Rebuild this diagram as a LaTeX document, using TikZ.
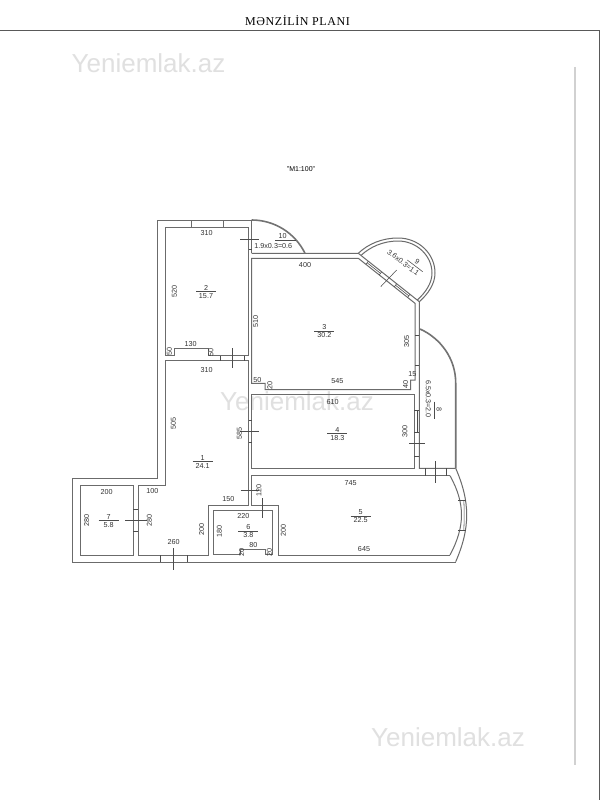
\documentclass[tikz,border=0pt]{standalone}
\usepackage{fontspec}
\setmainfont{Liberation Sans}
\newfontfamily\titlefont[LetterSpace=5]{Liberation Serif}
\tikzset{
  wall/.style={line width=1pt, draw=black!58},
  thickwall/.style={line width=1.6pt, draw=black!55},
  tick/.style={line width=0.55pt, draw=black!70},
  dimtext/.style={inner sep=0pt, text=black!80, font=\fontsize{7.2}{8}\selectfont},
  dimvert/.style={dimtext, rotate=90},
  mark text/.style={inner sep=0pt, text=black!12, font=\fontsize{26}{27}\selectfont}
}
\begin{document}
\begin{tikzpicture}[x=1pt, y=-1pt]
    \useasboundingbox (0, 0) rectangle (600, 800);
    \fill [white] (0, 0) rectangle (600, 800);

    % page frame and heading
    \draw [line width=0.9pt, draw=black!65] (0, 30) -- (599, 30) -- (599, 800);
    \draw [line width=1.2pt, draw=black!18] (575, 67) -- (575, 765);
    \node [inner sep=0pt, font=\titlefont\fontsize{12}{13}\selectfont] (title) at (297.5, 21) {MƏNZİLİN PLANI};
    \node [inner sep=0pt, font=\fontsize{7}{8}\selectfont] (scale) at (301, 169) {"M1:100"};
    \node [mark text] (markA) at (148.5, 63) {Yeniemlak.az};
    \node [mark text] (markB) at (297, 401) {Yeniemlak.az};
    \node [mark text] (markC) at (448, 737) {Yeniemlak.az};

    % outer walls
    \draw [wall] (251.7, 253.3) -- (358.3, 253.3) -- (419.3, 301.7) -- (419.3, 468.3) -- (455.7, 468.3);
    \draw [wall] (251.7, 220) -- (157.7, 220) -- (157.7, 478.3) -- (72.3, 478.3) -- (72.3, 562.3) -- (455.7, 562.3);
    \draw [thickwall] (251.7, 220) .. controls (274.4, 220) and (295, 232.9) .. (305, 253.3);
    \draw [thickwall] (420, 329) .. controls (440, 338) and (455.7, 358) .. (455.7, 383) -- (455.7, 468.3);
    \draw [wall] (455.7, 468.3) .. controls (463, 485) and (466.7, 500) .. (466.7, 515)
      .. controls (466.7, 530) and (463, 545) .. (455.7, 561.7);

    % balcony 9
    \draw [wall] (358.3, 253.3) .. controls (368, 244) and (382, 238) .. (398, 238)
      .. controls (419, 238) and (435, 254) .. (435, 273)
      .. controls (435, 284) and (428, 294) .. (419.3, 301.7);
    \draw [wall] (361, 255.4) .. controls (370, 247) and (383, 241) .. (398, 241)
      .. controls (417, 241) and (432, 256) .. (432, 273)
      .. controls (432, 283) and (426, 292) .. (417.3, 300.1);

    % rooms
    \draw [wall] (174, 355.7) -- (165.7, 355.7) -- (165.7, 227) -- (248.7, 227) -- (248.7, 355.7) -- (208.3, 355.7);
    \draw [wall] (174, 355.7) -- (174, 348.3) -- (208.3, 348.3) -- (208.3, 355.7);
    \draw [wall] (248.7, 360.7) -- (165.7, 360.7) -- (165.7, 485.7) -- (138.3, 485.7) -- (138.3, 555)
      -- (208.3, 555) -- (208.3, 505) -- (248.7, 505) -- cycle;
    \draw [wall] (251.7, 220) -- (251.7, 253.3);
    \draw [wall] (251.7, 258.3) -- (358.3, 258.3) -- (415, 303.3) -- (415, 380) -- (410.7, 380) -- (410.7, 389.5)
      -- (265, 389.5) -- (265, 383.3) -- (251.7, 383.3) -- cycle;
    \draw [wall] (251.7, 394) rectangle (414.3, 468.3);
    \draw [wall] (450, 475.7) -- (251.7, 475.7) -- (251.7, 505) -- (278.3, 505) -- (278.3, 555) -- (450, 555);
    \draw [wall] (450, 475.7) .. controls (458, 490) and (461.5, 503) .. (461.5, 515)
      .. controls (461.5, 527) and (458, 540) .. (450, 555);
    \draw [wall] (213.3, 510) -- (272.7, 510) -- (272.7, 554) -- (265, 554) -- (265, 549) -- (240, 549) -- (240, 554)
      -- (213.3, 554) -- cycle;
    \draw [wall] (80, 485.7) rectangle (133.3, 555);

    % windows and door jambs
    \draw [wall] (191.7, 220) -- (191.7, 227);
    \draw [wall] (223.3, 220) -- (223.3, 227);
    \foreach \x in {220.7, 244.3} {
      \draw [tick] (\x, 355.7) -- (\x, 360.7);
    }
    \foreach \y in {249.3, 420, 442.3} {
      \draw [tick] (248.7, \y) -- (251.7, \y);
    }
    \foreach \y in {335, 365.7} {
      \draw [tick] (415, \y) -- (419.3, \y);
    }
    \foreach \y in {410, 432.7, 456} {
      \draw [tick] (414.3, \y) -- (419.3, \y);
    }
    \draw [tick] (416.8, 410) -- (416.8, 432.7);
    \foreach \x in {425, 446} {
      \draw [tick] (\x, 468.3) -- (\x, 475.7);
    }
    \foreach \y in {509.3, 531.7} {
      \draw [tick] (133.3, \y) -- (138.3, \y);
    }
    \foreach \x in {160, 187.3} {
      \draw [tick] (\x, 555) -- (\x, 562.3);
    }
    \foreach \y in {500, 530} {
      \draw [tick] (458, \y) -- (466, \y);
    }
    \draw [tick] (463.8, 500) .. controls (464.3, 510) and (464.3, 520) .. (463.8, 530);
    \foreach \x/\y in {368.3/261.2, 381.7/271.8, 396.7/283.7, 410/294.3} {
      \draw [tick] (\x, \y) -- ++(-2.4, 3.1);
    }
    \draw [tick] (367.1, 262.75) -- (380.5, 273.35);
    \draw [tick] (395.5, 285.25) -- (408.8, 295.85);

    % door marks
    \draw [tick] (240, 239.3) -- (259.3, 239.3);
    \draw [tick] (232.3, 348.3) -- (232.3, 368.3);
    \draw [tick] (240, 431) -- (259.3, 431);
    \draw [tick] (409.3, 443.3) -- (425, 443.3);
    \draw [tick] (435.7, 461) -- (435.7, 483);
    \draw [tick] (380.7, 286.7) -- (396.7, 270);
    \draw [tick] (240.7, 490) -- (259.3, 490);
    \draw [tick] (262, 498) -- (262, 517.7);
    \draw [tick] (125, 520.3) -- (147.3, 520.3);
    \draw [tick] (173.7, 548.3) -- (173.7, 570);

    % room numbers
    \foreach \x/\y/\n/\a in {202.7/461.7/1/24.1, 206/291.7/2/15.7, 324.3/331/3/30.2, 337.3/433.7/4/18.3,
                             360.7/516/5/22.5, 248.3/531/6/3.8, 108.7/520.7/7/5.8} {
      \node [dimtext, anchor=south, yshift=1.2pt] (num\n) at (\x, \y) {\n};
      \node [dimtext, anchor=north, yshift=-1.6pt] (area\n) at (\x, \y) {\a};
      \draw [tick] (\x - 10, \y) -- (\x + 10, \y);
    }
    \node [dimtext] (num10) at (282.7, 236.5) {10};
    \node [dimtext] (area10) at (273.3, 245.7) {1.9x0.3=0.6};
    \draw [tick] (275, 240.7) -- (296, 240.7);
    \node [dimtext, rotate=-90] (area8) at (428.3, 399) {6.5x0.3=2.0};
    \node [dimtext, rotate=-90] (num8) at (439, 409.3) {8};
    \draw [tick] (434.5, 401.7) -- (434.5, 419);
    \node [dimtext, rotate=-37] (area9) at (403.3, 262.7) {3.6x0.3=1.1};
    \node [dimtext, rotate=-37] (num9) at (417.3, 261.7) {9};
    \draw [tick] (407.3, 260) -- (422.7, 271.7);

    % dimensions
    \foreach \x/\y/\t [count=\i] in {206.7/233.3/310, 190.7/344/130, 206.7/370/310, 305/265/400, 257.3/380/50,
                                     337.3/380.7/545, 412.3/374.3/15, 332.7/402.3/610, 350.7/482.7/745, 364/549/645,
                                     228.3/499.3/150, 243.3/515.7/220, 253.3/545.3/80, 106.7/491.7/200,
                                     152.3/490.7/100, 173.7/542.3/260} {
      \node [dimtext] (dimh\i) at (\x, \y) {\t};
    }
    \foreach \x/\y/\t [count=\i] in {174.3/291.7/520, 169.3/351.7/50, 211/352.3/50, 255.7/321/510, 270/385.7/20,
                                     406.7/341.7/305, 405.7/384/40, 405/431.7/300, 173.3/423.3/505, 239.3/433.3/585,
                                     259/490/120, 219.3/531.7/180, 283.3/530/200, 201.7/529/200, 241.7/552.7/20,
                                     269.3/552.7/20, 86.7/520/280, 149.3/520/280} {
      \node [dimvert] (dimv\i) at (\x, \y) {\t};
    }
\end{tikzpicture}
\end{document}
